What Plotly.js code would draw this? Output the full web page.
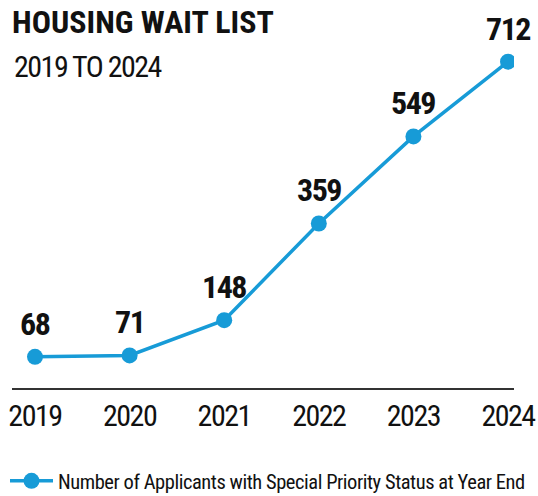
<!DOCTYPE html>
<html>
<head>
<meta charset="utf-8">
<script src="https://cdn.plot.ly/plotly-3.0.1.min.js"></script>
<style>
html,body{margin:0;padding:0;background:#fff;}
#chart{width:538px;height:496px;}
text{font-stretch:75% !important;}
text.annotation-text{letter-spacing:-1.5px;}
.xtick text{letter-spacing:-1.5px;}
text.legendtext{letter-spacing:-0.45px;}
</style>
</head>
<body>
<div id="chart"></div>
<script>
const years = ['2019', '2020', '2021', '2022', '2023', '2024'];
const applicants = [68, 71, 148, 359, 549, 712];
const seriesName = 'Number of Applicants with Special Priority Status at Year End';
const chartTitle = 'HOUSING WAIT LIST';
const chartSubtitle = '2019 TO 2024';

const FONT = 'Roboto, "DejaVu Sans", sans-serif';
const BLUE = '#179bd7';

const trace = {
  x: years,
  y: applicants,
  type: 'scatter',
  mode: 'lines+markers',
  name: seriesName,
  line: {color: BLUE, width: 3.5},
  marker: {color: BLUE, size: 16},
  hoverinfo: 'x+y'
};

const annotations = years.map((yr, i) => ({
  x: i, y: applicants[i], xref: 'x', yref: 'y',
  text: '<b>' + applicants[i] + '</b>',
  showarrow: false, yshift: 33,
  font: {family: FONT, size: 32, color: '#111'}
}));
annotations.push({
  xref: 'paper', yref: 'paper', x: 0, y: (388 - 66) / 368,
  xanchor: 'left', yanchor: 'middle', align: 'left', showarrow: false,
  text: chartSubtitle,
  font: {family: FONT, size: 30, color: '#111'}
});

const layout = {
  width: 538, height: 496,
  margin: {l: 12, r: 24, t: 20, b: 108},
  paper_bgcolor: '#fff', plot_bgcolor: '#fff',
  title: {
    text: '<b>' + chartTitle + '</b>',
    xref: 'container', yref: 'container',
    x: 12/538, xanchor: 'left', y: 1 - 22/496, yanchor: 'middle',
    font: {family: FONT, size: 32, color: '#111'}
  },
  xaxis: {
    type: 'category', range: [-0.243, 5.063],
    showline: true, linecolor: '#333', linewidth: 1.5,
    showgrid: false, zeroline: false, ticks: '',
    tickfont: {family: FONT, size: 30, color: '#111'},
    fixedrange: true
  },
  yaxis: {
    range: [0, 803], visible: false, showgrid: false, zeroline: false, fixedrange: true
  },
  showlegend: true,
  legend: {
    orientation: 'h', xref: 'container', yref: 'container',
    x: 5/538, xanchor: 'left', y: 1 - 481/496, yanchor: 'middle',
    itemwidth: 43,
    font: {family: FONT, size: 20.5, color: '#111'},
    bgcolor: 'rgba(0,0,0,0)'
  },
  annotations: annotations
};

Plotly.newPlot('chart', [trace], layout, {displayModeBar: false, responsive: false});
</script>
</body>
</html>
